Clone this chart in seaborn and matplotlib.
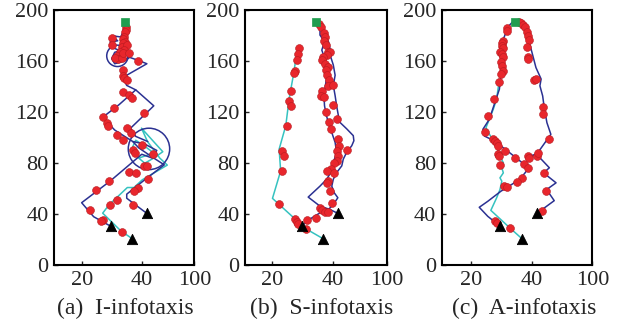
import matplotlib
matplotlib.use("Agg")
import matplotlib.pyplot as plt
import pandas as pd
import seaborn as sns

sns.set_style("ticks")
plt.rcParams.update(
    {
        "font.family": ["Liberation Serif", "DejaVu Serif"],
        "font.size": 16,
        "axes.linewidth": 1.5,
        "axes.edgecolor": "black",
        "xtick.direction": "in",
        "ytick.direction": "in",
    }
)

BLUE = "#2b3192"
CYAN = "#35c2c0"
RED = "#e8262c"
GREEN = "#1f9d4f"

# shared markers: source (green square) and the three start points (triangles)
source_x = [34.5]
source_y = [190.5]
start_x = [29.7, 36.8, 41.7]
start_y = [30.5, 20.8, 40.6]

captions = ["(a)  I-infotaxis", "(b)  S-infotaxis", "(c)  A-infotaxis"]
ytick_vals = [0, 40, 80, 120, 160, 200]
xtick_labels = ["20", "40", "100"]

# ---- (a) I-infotaxis
i_blue1_x = [29.7, 24, 20, 29.5, 38, 40, 43.5, 45, 41, 37, 31, 27, 32.5, 38, 44, 36.3, 38, 42]
i_blue1_y = [30.5, 38, 49, 66, 83, 87, 84, 90, 95, 97, 106, 116, 126, 137.5, 125, 107.5, 101, 97]
i_blue2_x = [41.7, 35, 35, 41, 47.5, 44, 39, 37]
i_blue2_y = [40.6, 52.5, 55.7, 67, 78.7, 84, 92, 97]
i_blue3_x = [38, 35, 34, 35, 41.7, 39, 36, 34, 31, 30, 31, 34, 36, 35, 33, 30, 29.5, 32, 30, 33, 34, 35]
i_blue3_y = [137.5, 141, 146, 149, 158, 160.5, 163, 160, 158, 162, 167, 169, 166, 161, 168, 171, 175, 176, 180, 179, 184, 188]
i_cyan_x = [36.8, 33, 27, 29.1, 35.2, 37.4, 40.2, 48.5, 46, 41.9, 39.9, 42, 47, 44, 41, 39, 44, 40, 38, 37]
i_cyan_y = [20.8, 27, 40.8, 47.3, 60.9, 60.9, 67, 78.5, 84, 97, 107.5, 102, 89, 84, 80, 84, 88, 95, 98, 93]
i_dots_x = [34.8, 34.6, 34.3, 34.1, 33.9, 34.4, 33.7, 33.3, 35, 34.2, 32.8, 31.7, 32.2, 31.1, 33.3,
            33.9, 35.6, 30, 30, 38.9, 33.6, 33.6, 34.1, 35, 33.9, 35.7, 36.7, 30.6, 27.2, 28.3,
            28.9, 31.7, 33.9, 35, 36.4, 37.2, 37.8, 40.2, 43.6, 40.6, 41.7, 35.6, 38, 42.2, 38.9,
            37.4, 29.2, 24.8, 31.7, 29.4, 22.8, 27, 26.3, 33.3, 37, 40.8]
i_dots_y = [187.2, 184.6, 182.7, 179.3, 177.5, 175.4, 174.1, 171.5, 172.8, 168.9, 167.6, 163.7, 161.6, 162.4, 162.4,
            166.3, 166.3, 178, 172.8, 160.3, 153.2, 148.5, 146.7, 145.4, 136.2, 133.1, 131, 123.1, 116.1, 111.4,
            109.3, 102.2, 98.3, 107.5, 103.5, 90.5, 87.8, 94.4, 87.1, 77.4, 77.4, 72.9, 72.2, 67.7, 60.4,
            57.8, 66.1, 59.1, 51.2, 47.3, 43.4, 35.6, 34.8, 26.4, 47.3, 119.2]
i_circle_x = [42.4, 31.9]
i_circle_y = [91.2, 164.2]

# ---- (b) S-infotaxis
s_blue1_x = [29.7, 31.5, 33.1, 35.8, 38.6, 40.2, 41.7, 40.5, 39.7, 40.2, 41.3, 43, 43.5, 44.6, 46.3, 47, 46.8,
             44.6, 42.4, 41.9, 41.3, 40.8, 40.2, 40.8, 40.2, 39.4, 39.1, 38.6, 35.8]
s_blue1_y = [30.5, 34.5, 37.1, 41, 43.7, 47.6, 52.9, 56.8, 62, 67.4, 72.6, 77.9, 83.2, 88.4, 93.7, 97.6, 101.6,
             107, 112, 117, 125, 133, 141, 149, 157, 163, 170, 175.3, 187]
s_blue2_x = [41.7, 39.1, 35.8, 31.9, 35.8, 38, 39.7, 40.2, 41.3, 40.8, 39.7, 38.6, 37.9, 37.3, 37.1, 37.6,
             38.1, 36.9, 37.4, 36.4, 37.3, 35.8, 35.8, 34.5]
s_blue2_y = [40.6, 43.7, 46.3, 53.4, 62, 67.4, 74, 80.5, 88.4, 96.3, 104, 112, 117.4, 125, 133, 141,
             149, 157, 162, 168.7, 175.3, 180.5, 187, 190.5]
s_cyan_x = [36.8, 33, 28.5, 27.2, 20.1, 22.8, 22.3, 24.5, 25.6, 27, 28.1, 29]
s_cyan_y = [20.8, 26, 32, 37, 52.4, 73.9, 91, 109.5, 130.5, 149, 166, 170.5]
s_dots_x = [35.6, 36, 37.1, 37.5, 37.2, 37.8, 38.3, 39.1, 38, 36.9, 36.4, 37.5, 38.3, 37.8, 38, 38.8,
            38.3, 36.6, 36.1, 37.1, 37.8, 38.9, 39.3, 41.7, 42.2, 41.3, 41.9, 44.6, 41.3, 40.4, 39.3, 38,
            40.4, 38.6, 38, 39.1, 39.7, 35.8, 36.4, 37.5, 38.6, 34.5, 31.6, 40.2, 41.3, 40,
            29, 28.4, 28.1, 27.5, 27.3, 26.1, 25.6, 26.1, 24.8, 23.4, 23.9, 23.2, 22.3, 27.4, 28.1, 28.6, 31.1]
s_dots_y = [189, 187, 182, 179, 176, 173, 167, 167, 165, 163, 161, 158, 155.5, 153, 149, 145,
            140.5, 137, 133, 132, 120, 112, 107, 99, 93.7, 89.7, 85.8, 90.5, 81.8, 80, 75.3, 74,
            72.6, 66, 64.7, 58, 49, 45, 43, 41.8, 42, 37, 35.8, 125.5, 114.7, 141,
            170.5, 166, 160.8, 152, 151, 136.3, 128.4, 124.5, 109.5, 89.2, 85.3, 74.2, 47.6, 36.3, 33.7, 32.6, 28.4]

# ---- (c) A-infotaxis
a_blue1_x = [29.7, 25.6, 22.8, 25.6, 29.9, 34.3, 36.5, 38.7, 37.6, 32.1, 27.8, 24.5, 24, 26.1, 27.2, 28.3,
             29.4, 29.9, 30.5, 29.9, 30.5, 31.6, 32.1, 33.8]
a_blue1_y = [30.5, 38.3, 45.4, 50.1, 58, 64.6, 68.5, 75, 79, 89.5, 97.4, 101.3, 106.6, 114.4, 122.3, 130.2,
             138, 148.6, 159, 167, 176.1, 182.7, 186.6, 191]
a_blue2_x = [41.7, 47.4, 44.9, 48, 43.9, 45.8, 42, 38.7, 40, 42, 46.3, 45, 44.2, 43.6, 42.7, 43.1, 41.4,
             39.8, 38.9, 38.1, 36.3, 34.5]
a_blue2_y = [40.6, 50.6, 59.3, 64.6, 72.4, 76.4, 86, 86.5, 85, 88.2, 102.6, 111.8, 122.3, 132.8, 140.7, 146, 155,
             169.6, 177.4, 185.3, 191, 190.5]
a_cyan_x = [36.8, 32.9, 26.6, 28.5, 29.6, 30.2, 29.6, 30.7, 30.2, 30.7, 29.6, 28.5, 27.2, 25.8, 25, 26.1,
            27.4, 28.5, 29.1, 29.3]
a_cyan_y = [20.8, 29.1, 43, 52.8, 59.3, 65.9, 68.5, 72.4, 76.4, 80.3, 85.6, 93.4, 98.7, 103.9, 107.9, 114.4,
            122.3, 130.2, 140.7, 146]
a_dots_x = [36, 36.4, 37.3, 37.8, 38.6, 38.9, 39.2, 38.4, 38.9, 38.7, 32, 31.8, 30.5, 30.3, 30.2, 30.7,
            29.6, 30.2, 30.7, 29.8, 30.2, 30.5, 29.9, 29.4, 27.8, 25.8, 24.7, 27.2, 28, 28.5, 29.1, 28.9,
            29.3, 31.3, 34.5, 29.6, 37.6, 38.9, 36.7, 35.1, 31, 31.8, 28, 28.5, 32.9, 40.8, 41.4, 43.8,
            43.8, 45.8, 38.7, 39.2, 41.6, 42.2, 44, 44.6, 43.5]
a_dots_y = [191, 190, 188, 186.6, 182.7, 179.5, 177, 170.9, 163, 161.7, 185.8, 184, 176, 174.3, 172.2, 170,
            167, 165.6, 163, 159, 156.4, 152.5, 150, 143.3, 130.2, 117, 104.5, 99.2, 97.4, 96, 93.4, 86.9,
            85.6, 89.5, 84.3, 78.5, 79, 76.4, 68.5, 65, 62, 61.4, 34.4, 33, 29.1, 145.4, 146, 124.4,
            118.4, 99.2, 85.6, 84.3, 86, 87.7, 72.4, 58, 42.5]


def path_frame(paths):
    rows = []
    for k, (xs, ys) in enumerate(paths):
        for j, (x, y) in enumerate(zip(xs, ys)):
            rows.append({"path": k, "step": j, "x": x, "y": y})
    return pd.DataFrame(rows)


panels = [
    {"blue": [(i_blue1_x, i_blue1_y), (i_blue2_x, i_blue2_y), (i_blue3_x, i_blue3_y)],
     "cyan": [(i_cyan_x, i_cyan_y)], "dots": (i_dots_x, i_dots_y), "circles": (i_circle_x, i_circle_y)},
    {"blue": [(s_blue1_x, s_blue1_y), (s_blue2_x, s_blue2_y)],
     "cyan": [(s_cyan_x, s_cyan_y)], "dots": (s_dots_x, s_dots_y), "circles": None},
    {"blue": [(a_blue1_x, a_blue1_y), (a_blue2_x, a_blue2_y)],
     "cyan": [(a_cyan_x, a_cyan_y)], "dots": (a_dots_x, a_dots_y), "circles": None},
]

# layout (figure fractions) and x ranges
axes_rects = [
    [0.088, 0.194, 0.227, 0.775],
    [0.397, 0.194, 0.230, 0.775],
    [0.716, 0.194, 0.244, 0.775],
]
x_ranges = [(10.9, 57.5), (11.0, 57.9), (10.5, 59.9)]
caption_x = [0.203, 0.521, 0.850]
circle_sizes = [888, 237]

fig = plt.figure(figsize=(6.17, 3.29), dpi=100)
for p, rect, xr, cx, cap in zip(panels, axes_rects, x_ranges, caption_x, captions):
    ax = fig.add_axes(rect)
    cyan_df = path_frame(p["cyan"])
    blue_df = path_frame(p["blue"])
    sns.lineplot(data=cyan_df, x="x", y="y", units="path", estimator=None, sort=False,
                 color=CYAN, lw=1.1, ax=ax, zorder=2)
    sns.lineplot(data=blue_df, x="x", y="y", units="path", estimator=None, sort=False,
                 color=BLUE, lw=1.1, ax=ax, zorder=3)
    if p["circles"] is not None:
        ax.scatter(p["circles"][0], p["circles"][1], s=circle_sizes, facecolors="none",
                   edgecolors=BLUE, linewidths=1.1, zorder=3)
    sns.scatterplot(x=p["dots"][0], y=p["dots"][1], s=32, color=RED, edgecolor="#b81a20",
                    linewidth=0.4, ax=ax, zorder=4)
    sns.scatterplot(x=start_x, y=start_y, marker="^", s=55, color="black", edgecolor="black",
                    ax=ax, zorder=5)
    sns.scatterplot(x=source_x, y=source_y, marker="s", s=40, color=GREEN, edgecolor=GREEN,
                    ax=ax, zorder=5)

    ax.set_xlim(*xr)
    ax.set_ylim(0, 200)
    ax.set_xticks([20, 40, xr[1]])
    ax.set_xticklabels(xtick_labels)
    ax.set_yticks(ytick_vals)
    ax.tick_params(length=3, width=1, pad=4, labelsize=16)
    ax.set_xlabel("")
    ax.set_ylabel("")
    for s in ax.spines.values():
        s.set_visible(True)
    fig.text(cx, 0.061, cap, ha="center", va="center", fontsize=17)

fig.savefig("out.png", dpi=100)
